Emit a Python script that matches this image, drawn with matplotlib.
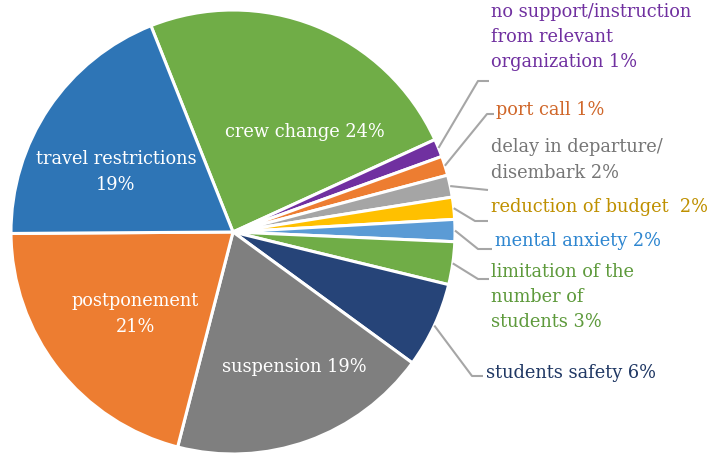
import matplotlib
matplotlib.use("Agg")
import matplotlib.pyplot as plt
import numpy as np

# slices, clockwise from the top (crew change first)
names = ["crew change", "no support/instruction from relevant organization",
         "port call", "delay in departure/disembark", "reduction of budget",
         "mental anxiety", "limitation of the number of students",
         "students safety", "suspension", "postponement", "travel restrictions"]
values = [24.1, 1.3, 1.4, 1.6, 1.6, 1.6, 3.1, 6.2, 18.9, 20.8, 19.0]
labels = ["crew change 24%", "no support/instruction\nfrom relevant\norganization 1%",
          "port call 1%", "delay in departure/\ndisembark 2%", "reduction of budget  2%",
          "mental anxiety 2%", "limitation of the\nnumber of\nstudents 3%",
          "students safety 6%", "suspension 19%", "postponement\n21%",
          "travel restrictions\n19%"]
colors = ["#70AD47", "#7030A0", "#ED7D31", "#A5A5A5", "#FFC000", "#5B9BD5",
          "#70AD47", "#264478", "#7F7F7F", "#ED7D31", "#2E75B6"]
text_colors = ["white", "#7030A0", "#D0672A", "#767676", "#BF9000", "#2E86D0",
               "#5E9A3C", "#203864", "white", "white", "white"]

plt.rcParams['font.family'] = ['DejaVu Serif']

W, H = 712, 460
fig = plt.figure(figsize=(W / 100, H / 100), dpi=100)
ax = fig.add_axes([0, 0, 1, 1])

cx, cy, R = 233, H - 233, 222
wedges, _ = ax.pie(values, colors=colors, startangle=111.7, counterclock=False,
                   center=(cx, cy), radius=R,
                   wedgeprops=dict(edgecolor="white", linewidth=2.2))
ax.set_xlim(0, W)
ax.set_ylim(0, H)
ax.set_aspect("equal")
ax.axis("off")

fs = 12.8
# inside labels (pixel positions, y from top)
inside = {0: (305, 132), 8: (294, 367), 9: (135, 314), 10: (116, 172)}
for i, (x, y) in inside.items():
    ax.text(x, H - y, labels[i], color="white", fontsize=fs, ha="center",
            va="center", linespacing=1.5)

# outside labels: text position and leader elbow (pixel coords from top)
outside = {
    1: ((491, 37), (478, 82), (489, 82)),
    2: ((496, 110), (487, 115), (494, 115)),
    3: ((491, 160), (488, 191), (488, 191)),
    4: ((491, 207), (475, 222), (488, 222)),
    5: ((495, 241), (478, 250), (492, 250)),
    6: ((491, 297), (478, 280), (489, 280)),
    7: ((486, 373), (472, 377), (483, 377)),
}
for i, ((tx, ty), (ex, ey), (hx, hy)) in outside.items():
    w = wedges[i]
    mid = np.deg2rad((w.theta1 + w.theta2) / 2)
    sx, sy = cx + R * np.cos(mid), cy + R * np.sin(mid)
    ax.plot([sx, ex, hx], [sy, H - ey, H - hy], color="#A6A6A6", lw=1.5,
            solid_capstyle="butt")
    ax.text(tx, H - ty, labels[i], color=text_colors[i], fontsize=fs,
            ha="left", va="center", linespacing=1.5)

fig.savefig("out.png", dpi=100)
